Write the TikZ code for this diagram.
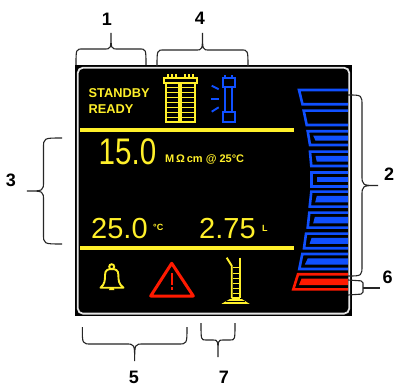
\documentclass[tikz,border=0pt]{standalone}
\usepackage{fontspec}
\setmainfont{Liberation Sans}
\definecolor{lcdyellow}{HTML}{FFF02A}
\definecolor{lcdblue}{HTML}{1050FF}
\definecolor{lcdred}{HTML}{FF1A00}
\newcommand{\fsize}[1]{\fontsize{#1}{#1}\selectfont}
% x, y, rotation, width, shoulder, tip, radius
\newcommand{\curly}[7]{
  \draw[bracket_line, shift={(#1,#2)}, rotate=#3] (0,0) .. controls (0,#5) and (0,#5) .. (#7,#5)
    -- ({#4/2-#7},#5) .. controls ({#4/2},#5) and ({#4/2},#5) .. ({#4/2},#6)
    .. controls ({#4/2},#5) and ({#4/2},#5) .. ({#4/2+#7},#5)
    -- ({#4-#7},#5) .. controls (#4,#5) and (#4,#5) .. (#4,0);
}
\tikzset{
  num_label/.style={font=\bfseries\fsize{18}, text=black, inner sep=0pt},
  bracket_line/.style={draw=black!85, line width=1.1pt},
  yellow_line/.style={draw=lcdyellow, line width=1.9pt},
  yellow_text/.style={font=\bfseries\fsize{#1}, text=lcdyellow, inner sep=0pt},
  lcd_digits/.style={font=\fsize{#1}, text=lcdyellow, inner sep=0pt},
  blue_line/.style={draw=lcdblue, line width=1.9pt},
  bar_line/.style={line width=2.6pt, line join=miter},
}
\begin{document}
\begin{tikzpicture}[x=1pt, y=-1pt]
  \useasboundingbox (0,0) rectangle (396,387);
  \fill[white] (0,0) rectangle (396,387);
  % panel
  \fill[black] (75,65) rectangle (352,316);

  % separators
  \draw[draw=lcdyellow, line width=3.2pt] (80,130) -- (294,130);
  \draw[draw=lcdyellow, line width=3.2pt] (80,248) -- (294,248);

  % status text
  \node[yellow_text=12.8, anchor=west] (standby) at (88.5,92.7) {STANDBY};
  \node[yellow_text=12.8, anchor=west] (ready) at (88.5,108.7) {READY};

  % readings
  \node[lcd_digits=37, anchor=base west, xscale=0.8] (resistivity) at (98.5,165) {15.0};
  \node[yellow_text=11, anchor=west] (resistivity_unit) at (165,159) {M$\,$\fontspec{Liberation Sans}Ω\,\bfseries cm @ 25°C};
  \node[lcd_digits=29, anchor=base west] (temperature) at (91,239) {25.0};
  \node[yellow_text=9, anchor=west] (temperature_unit) at (153,227.7) {°C};
  \node[lcd_digits=29, anchor=base west] (volume) at (199,239) {2.75};
  \node[yellow_text=9, anchor=west] (volume_unit) at (262,228) {L};

  % filter icon
  \draw[yellow_line] (164,77.7) rectangle (196.7,82.7);
  \draw[yellow_line] (166,82.7) rectangle (179.3,122);
  \draw[yellow_line] (181.3,82.7) rectangle (194.7,122);
  \foreach \y in {87.6,92.6,97.6,102.6,107.6,112.6,117.2} {
    \draw[draw=lcdyellow, line width=1.3pt] (166,\y) -- (179.3,\y);
    \draw[draw=lcdyellow, line width=1.3pt] (181.3,\y) -- (194.7,\y);
  }
  \foreach \x in {168,172,176,185,189,193} {
    \draw[draw=lcdyellow, line width=1.2pt] (\x,74.5) -- (\x,77.7);
  }

  % lamp icon
  \draw[blue_line] (222.7,78) rectangle (234.7,87);
  \draw[blue_line] (225,87) rectangle (232.3,112);
  \draw[blue_line] (222.7,112) rectangle (234.7,121.7);
  \foreach \x in {225,232.3} {
    \draw[blue_line] (\x,78) -- (\x,75.5);
  }
  \draw[blue_line] (211.7,85.7) -- (218.7,89.3);
  \draw[blue_line] (211,99.3) -- (218.7,99.3);
  \draw[blue_line] (211.7,111.7) -- (218.7,107.3);

  % bell icon
  \draw[yellow_line] (111.7,266.7) circle (2.5);
  \draw[yellow_line, line join=round] (100.5,287.7) .. controls (105,284) and (105,280) .. (105,275)
    .. controls (105,270) and (108,269) .. (111.7,269) .. controls (115.4,269) and (118.4,270) .. (118.4,275)
    .. controls (118.4,280) and (118.4,284) .. (123.5,287.7) -- cycle;
  \fill[lcdyellow] (109,290) arc[start angle=180, end angle=360, radius=2.7];

  % warning icon
  \draw[draw=lcdred, line width=3pt, line join=round] (171.7,263.3) -- (193.3,296) -- (150.7,296) -- cycle;
  \draw[draw=lcdred, line width=1.8pt] (171.7,273.3) -- (171.7,285);
  \draw[draw=lcdred, line width=1.8pt] (171.7,287) -- (171.7,289.5);

  % cylinder icon
  \draw[yellow_line] (226.7,257.7) -- (231.7,265.7) -- (231.7,298.3);
  \draw[yellow_line] (240,257.7) -- (240,298.3);
  \foreach \y in {267.7,273.3,278.3,283.3,288.3,293.3} {
    \draw[draw=lcdyellow, line width=1.5pt] (233,\y) -- (240,\y);
  }
  \draw[yellow_line] (231.7,298.3) -- (240,298.3);
  \fill[lcdyellow] (230,299) -- (241.7,299) -- (249.5,303.8) -- (221.5,303.8) -- cycle;
  \draw[draw=black, line width=0.5pt] (226,300.8) -- (245,300.8);

  % blue level bars
  \foreach \xa/\ya/\xb/\yb in {299/90/302.5/104.3, 303.7/110.7/306.7/125} {
    \draw[draw=lcdblue, bar_line] (348,\ya) -- (\xa,\ya) -- (\xb,\yb) -- (348,\yb);
  }
  \foreach \xa/\ya/\xb/\yb in {
    307.7/131.3/310/145, 310/151.7/311.3/166, 311.3/172.3/311.3/186.7, 311.3/191.7/309.7/206.7,
    309.3/212.7/307.7/227.7, 306/233.7/304/248.3, 302.3/254/299.3/269} {
    \draw[draw=lcdblue, bar_line] (348,\ya) -- (\xa,\ya) -- (\xb,\yb) -- (348,\yb);
    \fill[lcdblue] (348,\ya+4.3) -- (\xa+5.5,\ya+4.3) -- (\xb+5.5,\yb-4.3) -- (348,\yb-4.3) -- cycle;
  }
  % red level bar
  \draw[draw=lcdred, bar_line] (348,274.3) -- (298,274.3) -- (293.3,289.3) -- (348,289.3);
  \fill[lcdred] (348,278.6) -- (301.5,278.6) -- (299,285) -- (348,285) -- cycle;

  % frame
  \draw[draw=white!90!black, line width=1.8pt, rounded corners=5pt] (77.8,67.8) rectangle (349.2,313.6);

  % brackets
  \curly{76}{65}{0}{70}{-16}{-32}{7}
  \curly{157}{67}{0}{91}{-17}{-34}{7}
  \curly{348}{95}{-90}{181}{-14}{-30}{11}
  \curly{62}{138}{-90}{106}{18.5}{35}{10}
  \curly{82.3}{327}{0}{104.7}{17}{34}{9}
  \curly{201}{323}{0}{34}{17}{34}{5}
  \coordinate (six_top) at (348,280);
  \coordinate (six_bot) at (348,295);
  \coordinate (six_mid) at (363,288);
  \coordinate (six_end) at (380,288);
  \draw[bracket_line, rounded corners=2pt] (six_top) -- (363,281) -- (363,294) -- (six_bot);
  \draw[bracket_line] (six_mid) -- (six_end);

  % numbers
  \node[num_label] (num_one) at (107,19) {1};
  \node[num_label] (num_two) at (389,174) {2};
  \node[num_label] (num_three) at (11,180) {3};
  \node[num_label] (num_four) at (200,18) {4};
  \node[num_label] (num_five) at (134,377.5) {5};
  \node[num_label] (num_six) at (387.5,277) {6};
  \node[num_label] (num_seven) at (224,377.5) {7};
\end{tikzpicture}
\end{document}
